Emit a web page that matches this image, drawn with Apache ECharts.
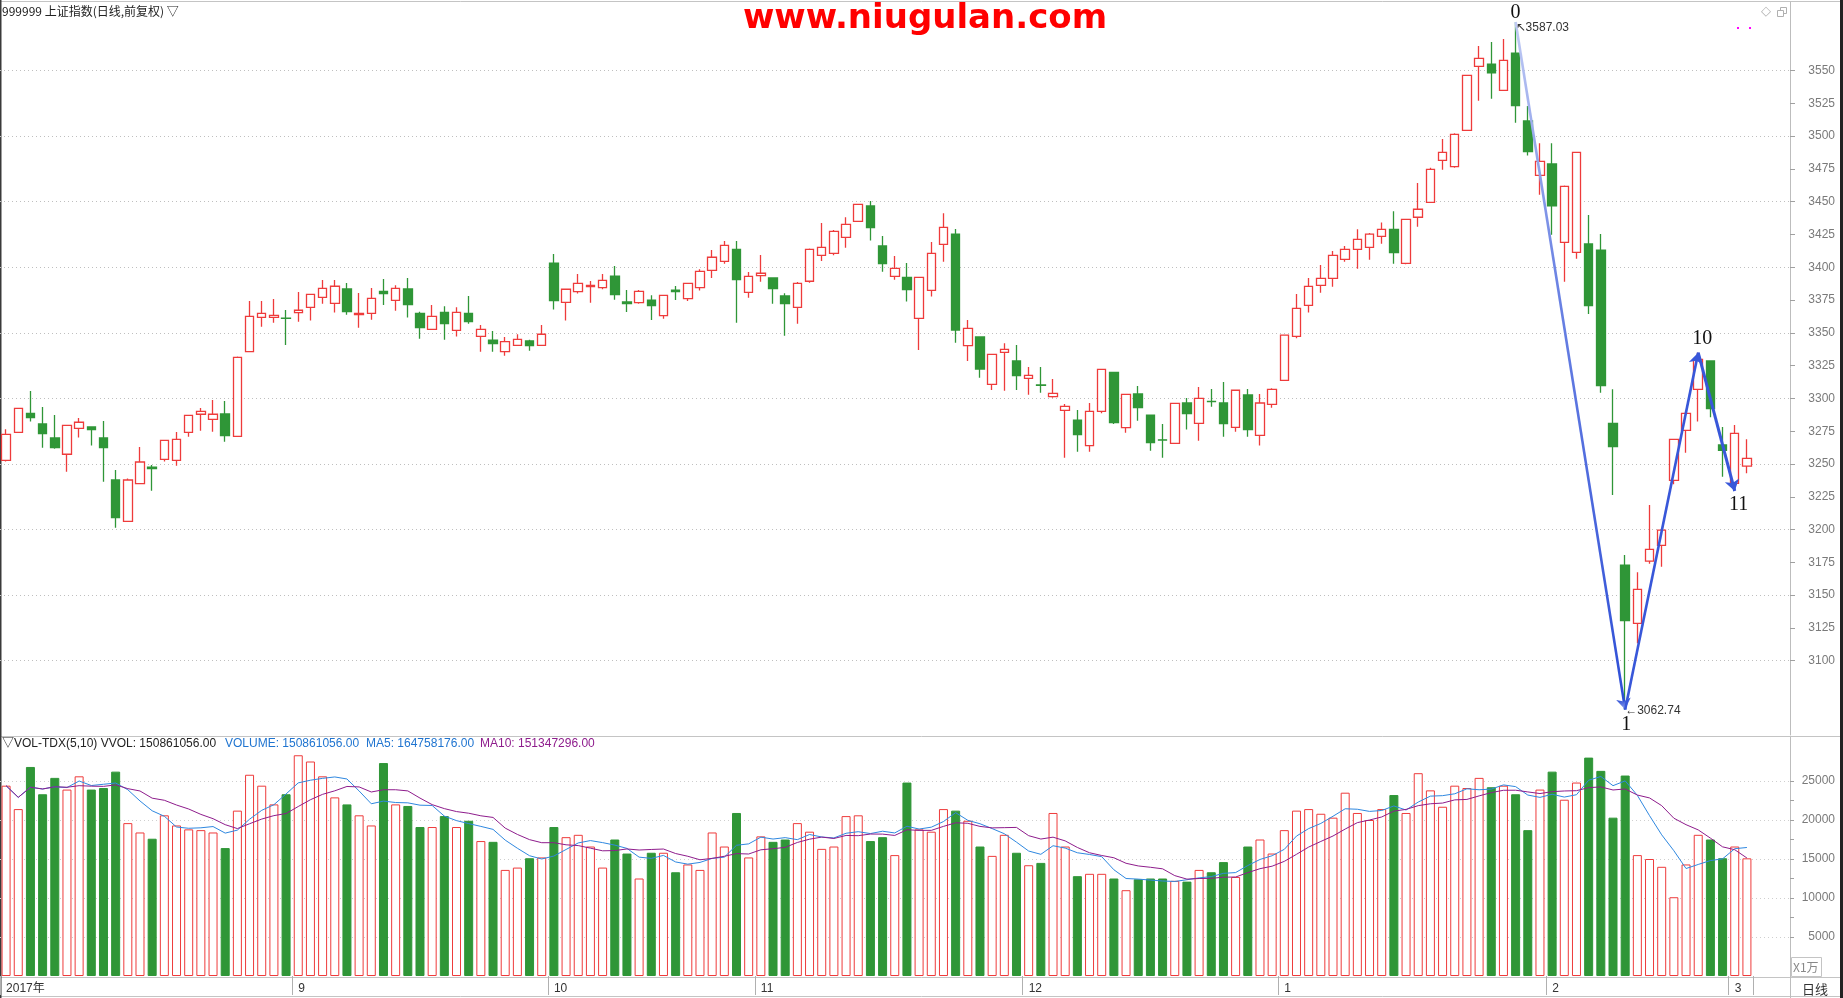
<!DOCTYPE html>
<html><head><meta charset="utf-8">
<script src="https://cdn.jsdelivr.net/npm/echarts@6/dist/echarts.min.js"></script>
<style>html,body{margin:0;padding:0;background:#fff;overflow:hidden}#c{width:1843px;height:998px}</style>
</head><body><div id="c"></div>
<script>
const dates = [
'2017-07-31',
'2017-08-01','2017-08-02','2017-08-03','2017-08-04','2017-08-07','2017-08-08','2017-08-09','2017-08-10','2017-08-11','2017-08-14','2017-08-15','2017-08-16','2017-08-17','2017-08-18','2017-08-21','2017-08-22','2017-08-23','2017-08-24','2017-08-25','2017-08-28','2017-08-29','2017-08-30','2017-08-31',
'2017-09-01','2017-09-04','2017-09-05','2017-09-06','2017-09-07','2017-09-08','2017-09-11','2017-09-12','2017-09-13','2017-09-14','2017-09-15','2017-09-18','2017-09-19','2017-09-20','2017-09-21','2017-09-22','2017-09-25','2017-09-26','2017-09-27','2017-09-28','2017-09-29',
'2017-10-09','2017-10-10','2017-10-11','2017-10-12','2017-10-13','2017-10-16','2017-10-17','2017-10-18','2017-10-19','2017-10-20','2017-10-23','2017-10-24','2017-10-25','2017-10-26','2017-10-27','2017-10-30','2017-10-31',
'2017-11-01','2017-11-02','2017-11-03','2017-11-06','2017-11-07','2017-11-08','2017-11-09','2017-11-10','2017-11-13','2017-11-14','2017-11-15','2017-11-16','2017-11-17','2017-11-20','2017-11-21','2017-11-22','2017-11-23','2017-11-24','2017-11-27','2017-11-28','2017-11-29','2017-11-30',
'2017-12-01','2017-12-04','2017-12-05','2017-12-06','2017-12-07','2017-12-08','2017-12-11','2017-12-12','2017-12-13','2017-12-14','2017-12-15','2017-12-18','2017-12-19','2017-12-20','2017-12-21','2017-12-22','2017-12-25','2017-12-26','2017-12-27','2017-12-28','2017-12-29',
'2018-01-02','2018-01-03','2018-01-04','2018-01-05','2018-01-08','2018-01-09','2018-01-10','2018-01-11','2018-01-12','2018-01-15','2018-01-16','2018-01-17','2018-01-18','2018-01-19','2018-01-22','2018-01-23','2018-01-24','2018-01-25','2018-01-26','2018-01-29','2018-01-30','2018-01-31',
'2018-02-01','2018-02-02','2018-02-05','2018-02-06','2018-02-07','2018-02-08','2018-02-09','2018-02-12','2018-02-13','2018-02-14','2018-02-22','2018-02-23','2018-02-26','2018-02-27','2018-02-28',
'2018-03-01','2018-03-02'];

const opens = [
3252.8,3274.1,3288.6,3280.5,3269.8,3257.4,3277.2,3278.2,3269.8,3237.8,
3206.3,3235.0,3247.5,3253.5,3252.8,3274.1,3287.9,3284.0,3288.1,3271.1,
3335.6,3361.8,3361.8,3361.2,3365.4,3369.4,3377.1,3372.5,3383.4,3363.9,
3364.9,3381.6,3374.8,3383.4,3364.9,3352.7,3365.6,3351.9,3364.9,3347.3,
3344.5,3335.6,3340.5,3343.8,3340.5,3403.2,3373.2,3381.4,3385.2,3384.4,
3393.3,3373.5,3373.0,3375.0,3363.1,3382.6,3376.0,3384.4,3397.6,3404.5,
3413.6,3380.9,3393.6,3391.8,3378.1,3369.4,3389.3,3409.1,3410.6,3422.8,
3435.0,3446.7,3416.2,3393.1,3392.3,3361.0,3382.4,3417.5,3425.3,3340.2,
3346.8,3310.7,3335.1,3328.5,3315.3,3310.2,3301.3,3290.9,3283.5,3264.0,
3290.1,3319.9,3277.7,3303.4,3287.3,3268.4,3265.7,3296.5,3281.0,3297.8,
3296.5,3277.9,3302.6,3271.8,3295.5,3313.8,3347.3,3370.9,3386.2,3391.5,
3406.0,3413.6,3415.2,3423.6,3428.9,3403.0,3438.1,3449.5,3481.5,3476.7,
3504.4,3553.2,3554.9,3534.9,3563.3,3511.5,3470.1,3478.7,3419.0,3411.4,
3417.7,3413.1,3281.0,3172.9,3128.5,3176.0,3188.0,3237.5,3275.6,3306.9,
3328.5,3264.5,3235.2,3248.4];
const closes = [
3272.6,3292.4,3285.3,3273.1,3262.4,3279.5,3281.8,3276.2,3262.4,3209.1,
3237.8,3251.5,3246.5,3268.0,3268.8,3287.1,3290.1,3287.9,3271.6,3331.3,
3362.6,3364.9,3363.3,3361.0,3367.2,3379.3,3383.9,3385.5,3366.1,3364.9,
3376.3,3379.9,3383.9,3371.5,3353.9,3362.6,3357.0,3365.6,3358.5,3352.7,
3341.7,3343.3,3345.0,3340.2,3348.9,3374.5,3383.2,3387.7,3386.2,3390.0,
3379.1,3372.2,3381.6,3370.7,3378.6,3381.4,3387.7,3396.9,3407.6,3416.7,
3390.5,3393.1,3395.4,3383.7,3372.2,3387.7,3413.6,3415.2,3427.4,3432.7,
3448.0,3430.2,3402.7,3399.2,3382.9,3392.3,3410.6,3430.4,3352.1,3353.4,
3322.4,3333.6,3337.4,3317.3,3317.6,3310.0,3303.9,3293.9,3272.4,3290.1,
3322.2,3281.5,3303.1,3292.9,3266.3,3268.2,3296.2,3288.4,3300.0,3297.6,
3280.7,3306.2,3276.2,3296.5,3306.9,3348.3,3368.7,3385.4,3391.5,3409.1,
3413.6,3421.3,3425.3,3428.9,3411.1,3436.5,3444.2,3474.6,3487.6,3501.3,
3546.3,3559.3,3548.3,3557.7,3523.2,3488.1,3480.7,3446.9,3461.7,3487.6,
3370.7,3309.7,3263.2,3130.5,3154.4,3184.9,3199.6,3268.8,3288.6,3329.8,
3292.2,3260.4,3273.4,3254.3];
const lows = [
3251.8,3273.9,3282.3,3262.4,3261.7,3244.1,3270.1,3264.0,3236.5,3201.4,
3206.0,3235.0,3229.6,3251.8,3248.7,3270.8,3275.4,3274.6,3267.0,3271.1,
3335.6,3354.7,3357.7,3340.7,3358.5,3359.3,3372.2,3365.4,3363.8,3353.9,
3360.0,3371.2,3366.9,3361.6,3345.5,3352.7,3344.8,3347.1,3357.0,3335.6,
3335.6,3332.6,3340.5,3336.4,3340.5,3367.7,3359.3,3379.9,3373.0,3383.2,
3375.3,3365.9,3372.2,3359.8,3360.8,3375.0,3374.3,3382.2,3391.8,3402.7,
3357.7,3376.8,3389.0,3372.2,3347.8,3357.0,3388.2,3404.8,3409.1,3414.9,
3435.0,3420.3,3396.6,3390.5,3373.8,3336.9,3377.6,3404.2,3342.5,3328.5,
3315.8,3306.4,3305.9,3306.4,3302.8,3304.4,3300.5,3254.8,3259.4,3259.4,
3288.6,3280.5,3273.9,3283.0,3260.1,3254.8,3265.7,3276.2,3267.8,3293.7,
3270.8,3274.6,3270.8,3264.0,3292.9,3313.8,3345.8,3365.4,3380.6,3385.2,
3404.2,3398.9,3405.8,3418.0,3402.7,3402.2,3430.9,3449.0,3474.4,3475.9,
3504.4,3527.0,3528.5,3534.9,3510.2,3485.1,3455.3,3424.8,3389.0,3406.5,
3364.3,3304.4,3226.3,3062.74,3113.3,3174.0,3171.7,3234.5,3258.6,3282.3,
3285.6,3240.3,3229.4,3242.9];
const highs = [
3276.4,3292.6,3305.6,3293.4,3287.3,3279.5,3285.1,3278.2,3282.8,3245.4,
3239.0,3262.9,3249.2,3268.0,3274.4,3287.1,3292.7,3298.8,3298.0,3332.0,
3374.2,3374.3,3375.8,3367.4,3381.1,3379.3,3390.3,3390.3,3388.0,3380.4,
3384.2,3391.0,3386.2,3391.8,3366.1,3371.2,3370.2,3369.4,3378.1,3356.0,
3351.4,3346.8,3348.9,3344.8,3356.0,3410.1,3383.2,3394.9,3389.5,3394.9,
3401.0,3382.6,3382.6,3378.6,3378.6,3385.7,3387.7,3398.4,3413.1,3420.0,
3420.0,3396.4,3409.3,3391.8,3380.1,3388.7,3414.2,3433.7,3428.4,3438.1,
3448.0,3450.5,3423.8,3408.6,3403.2,3392.3,3419.2,3441.1,3429.2,3359.8,
3346.8,3333.8,3342.0,3340.7,3323.9,3323.9,3314.8,3295.7,3291.2,3296.5,
3322.2,3319.9,3303.1,3309.5,3287.3,3280.5,3296.2,3300.3,3308.7,3307.2,
3312.5,3306.2,3307.2,3303.4,3307.7,3348.3,3379.6,3391.8,3401.7,3412.4,
3416.2,3428.9,3426.1,3434.2,3442.6,3436.5,3464.2,3475.9,3497.8,3502.1,
3546.3,3568.7,3571.7,3574.0,3587.03,3522.9,3494.5,3494.5,3462.4,3487.6,
3439.8,3425.3,3306.9,3180.6,3167.4,3218.7,3199.6,3268.8,3288.6,3334.9,
3328.5,3278.2,3279.7,3268.8];
// volume in units of 10,000 (X1万)
const volumes = [
24400,21400,26800,23300,25400,23900,25600,23900,24100,26200,
19600,18400,17600,20600,19300,18800,18700,18400,16400,21200,
25800,24400,22000,23300,28300,27500,25600,22900,22000,20600,
19300,27300,22000,21800,19100,19100,20500,19100,19900,17300,
17200,13600,13900,15100,15200,19100,17800,18100,16600,13900,
17500,15700,12500,15800,15800,13300,14300,13600,18400,16600,
20900,15200,17900,17200,17500,19600,18500,16300,16600,20500,
20600,17300,17800,15500,24800,18800,18500,21400,21200,19900,
16600,15400,18100,15800,14200,14500,20900,16600,12800,13100,
13100,12500,11000,12400,12500,12500,12200,12100,13600,13300,
14600,12700,16600,17500,15700,18700,21200,21400,20800,20300,
23500,20900,20000,21400,23200,20900,26000,23800,21700,24400,
24100,25400,24200,24400,23300,18700,23900,26200,22600,24800,
28000,26300,20300,25700,15500,15000,14000,10100,14300,18100,
17500,15100,16600,15086];

const priceTickRange = [3100, 3550];
const volTickRange = [5000, 25000];
const waveIdx = [124, 133, 139, 142];
const waveNames = ['0', '1', '10', '11'];
const legendTexts = ['\u25BDVOL-TDX(5,10) VVOL: 150861056.00', 'VOLUME: 150861056.00', 'MA5: 164758176.00', 'MA10: 151347296.00'];

const UP = '#EE3B3B', DOWN = '#2F9637', BLUE = '#2F88E0', PURPLE = '#8E1C8C', WAVE = '#3857D9';
const chart = echarts.init(document.getElementById('c'), null, {width: 1843, height: 998});

const candleData = dates.map((d, i) => [opens[i], closes[i], lows[i], highs[i]]);
const volData = volumes.map((v, i) => closes[i] >= opens[i]
  ? {value: v, itemStyle: {color: '#FFFFFF', borderColor: UP, borderWidth: 1}}
  : {value: v, itemStyle: {color: DOWN, borderColor: DOWN, borderWidth: 1}});
function ma(n) {
  return volumes.map((v, i) => {
    const s = Math.max(0, i - n + 1); let t = 0;
    for (let k = s; k <= i; k++) t += volumes[k];
    return +(t / (i - s + 1)).toFixed(1);
  });
}
const labelSet = new Set();
dates.forEach((d, i) => { if (i === 0 || (i > 1 && d.slice(5, 7) !== dates[i - 1].slice(5, 7))) labelSet.add(i); });

// geometry
const AX = 1790;            // right axis x
const PLOT_W = 1753;        // category band area width
const P_TOP = 2, P_H = 733; // price pane
const PX_PER_PT = 1.3116;
const Y3550 = 70.5;
const PMAX = 3550 + (Y3550 - P_TOP) / PX_PER_PT;
const PMIN = PMAX - P_H / PX_PER_PT;
const V_TOP = 737, V_H = 239, V_PX = 156 / 20000;
const VMAX = V_H / V_PX;

const serif = 'Liberation Serif, DejaVu Serif, serif';
const sans = 'Liberation Sans, Arial, sans-serif';
function lbl(text, dx, dy, extra) {
  return Object.assign({show: true, position: 'inside', formatter: text, offset: [dx, dy], color: '#111', fontFamily: serif, fontSize: 20}, extra || {});
}
const fadeWave = new echarts.graphic.LinearGradient(0, 0, 0, 1, [
  {offset: 0, color: '#C2CCF4'}, {offset: 0.35, color: '#6F86E4'}, {offset: 1, color: '#2C4DD6'}]);

const option = {
  animation: false,
  backgroundColor: '#FFFFFF',
  grid: [
    {left: 0, width: PLOT_W, top: P_TOP, height: P_H},
    {left: 0, width: PLOT_W, top: V_TOP, height: V_H},
    {left: 0, right: 1843 - AX, top: Y3550, height: 450 * PX_PER_PT},
    {left: 0, right: 1843 - AX, top: 781, height: 156}
  ],
  xAxis: [
    {gridIndex: 0, type: 'category', data: dates, boundaryGap: true, axisLine: {show: false}, axisTick: {show: false}, axisLabel: {show: false}, splitLine: {show: false}},
    {gridIndex: 1, type: 'category', data: dates, boundaryGap: true, axisLine: {show: false},
      axisTick: {show: true, interval: (i) => labelSet.has(i), length: 19, lineStyle: {color: '#B0B0B0'}},
      axisLabel: {show: true, interval: (i) => labelSet.has(i), align: 'left', margin: 7, color: '#333', fontSize: 12, fontFamily: sans + ', Noto Sans CJK SC',
        formatter: (v, i) => i === 0 ? v.slice(0, 4) + '年' : String(parseInt(v.slice(5, 7), 10))}, splitLine: {show: false}},
    {gridIndex: 2, type: 'value', show: false},
    {gridIndex: 3, type: 'value', show: false}
  ],
  yAxis: [
    {gridIndex: 0, type: 'value', min: PMIN, max: PMAX, position: 'right', offset: AX - PLOT_W, axisLine: {show: true, lineStyle: {color: '#BDBDBD'}}, axisTick: {show: false}, axisLabel: {show: false}, splitLine: {show: false}},
    {gridIndex: 1, type: 'value', min: 0, max: VMAX, position: 'right', offset: AX - PLOT_W, axisLine: {show: true, lineStyle: {color: '#BDBDBD'}}, axisTick: {show: false}, axisLabel: {show: false}, splitLine: {show: false}},
    {gridIndex: 2, type: 'value', min: priceTickRange[0], max: priceTickRange[1], interval: 50, position: 'left', axisLine: {show: false}, axisTick: {show: false}, axisLabel: {show: false},
      splitLine: {show: true, lineStyle: {color: '#BFBFBF', width: 1, type: [1, 3]}}},
    {gridIndex: 2, type: 'value', min: priceTickRange[0], max: priceTickRange[1], interval: 25, position: 'right', axisLine: {show: false},
      axisTick: {show: true, length: 5, lineStyle: {color: '#A0A0A0'}},
      axisLabel: {show: true, align: 'right', margin: 45, color: '#7A7A7A', fontSize: 12, fontFamily: sans, formatter: (v) => String(v)}, splitLine: {show: false}},
    {gridIndex: 3, type: 'value', min: volTickRange[0], max: volTickRange[1], interval: 5000, position: 'left', axisLine: {show: false}, axisTick: {show: false}, axisLabel: {show: false},
      splitLine: {show: true, lineStyle: {color: '#CFCFCF', width: 1, type: [1, 3]}}},
    {gridIndex: 3, type: 'value', min: volTickRange[0], max: volTickRange[1], interval: 2500, position: 'right', axisLine: {show: false},
      axisTick: {show: true, length: 4, lineStyle: {color: '#A0A0A0'}},
      axisLabel: {show: true, align: 'right', margin: 45, color: '#7A7A7A', fontSize: 12, fontFamily: sans, formatter: (v) => v % 5000 === 0 ? String(v) : ''}, splitLine: {show: false}}
  ],
  series: [
    {
      type: 'candlestick', xAxisIndex: 0, yAxisIndex: 0, data: candleData, barWidth: 9,
      itemStyle: {color: '#FFFFFF', color0: DOWN, borderColor: UP, borderColor0: DOWN, borderWidth: 1.3},
      markLine: {
        silent: true, symbol: ['none', 'arrow'], symbolSize: 11, label: {show: false},
        lineStyle: {color: WAVE, type: 'solid', width: 3},
        data: [
          [{coord: [dates[waveIdx[0]], highs[waveIdx[0]]], lineStyle: {width: 2.6, color: fadeWave}}, {coord: [dates[waveIdx[1]], lows[waveIdx[1]]]}],
          [{coord: [dates[waveIdx[1]], lows[waveIdx[1]]], lineStyle: {width: 2.6, color: WAVE}}, {coord: [dates[waveIdx[2]], highs[waveIdx[2]]]}],
          [{coord: [dates[waveIdx[2]], highs[waveIdx[2]]], lineStyle: {width: 3, color: WAVE}}, {coord: [dates[waveIdx[3]], lows[waveIdx[3]]]}]
        ]
      },
      markPoint: {
        silent: true, symbol: 'circle', symbolSize: 0,
        data: [
          {coord: [dates[waveIdx[0]], highs[waveIdx[0]]], label: lbl(waveNames[0], 0, -9)},
          {coord: [dates[waveIdx[0]], highs[waveIdx[0]]], label: lbl('\u2196' + highs[waveIdx[0]].toFixed(2), 0, 6, {align: 'left', fontFamily: sans, fontSize: 12, color: '#333'})},
          {coord: [dates[waveIdx[1]], lows[waveIdx[1]]], label: lbl(waveNames[1], 1, 15)},
          {coord: [dates[waveIdx[1]], lows[waveIdx[1]]], label: lbl('\u2190' + lows[waveIdx[1]].toFixed(2), 0, 1, {align: 'left', fontFamily: sans, fontSize: 12, color: '#333'})},
          {coord: [dates[waveIdx[2]], highs[waveIdx[2]]], label: lbl(waveNames[2], 4, -14)},
          {coord: [dates[waveIdx[3]], lows[waveIdx[3]]], label: lbl(waveNames[3], 4, 14)}
        ]
      }
    },
    {type: 'bar', xAxisIndex: 1, yAxisIndex: 1, data: volData, barWidth: 9},
    {type: 'line', xAxisIndex: 1, yAxisIndex: 1, data: ma(5), showSymbol: false, symbol: 'none', lineStyle: {color: BLUE, width: 1}, z: 5},
    {type: 'line', xAxisIndex: 1, yAxisIndex: 1, data: ma(10), showSymbol: false, symbol: 'none', lineStyle: {color: PURPLE, width: 1}, z: 5}
  ],
  graphic: [
    {type: 'line', silent: true, shape: {x1: 0, y1: 1.5, x2: 1843, y2: 1.5}, style: {stroke: '#C4C4C4', lineWidth: 1}},
    {type: 'line', silent: true, shape: {x1: 0, y1: 736.5, x2: 1843, y2: 736.5}, style: {stroke: '#C4C4C4', lineWidth: 1}},
    {type: 'line', silent: true, shape: {x1: 0, y1: 977.5, x2: 1843, y2: 977.5}, style: {stroke: '#C4C4C4', lineWidth: 1}},
    {type: 'line', silent: true, shape: {x1: 0, y1: 996.5, x2: 1843, y2: 996.5}, style: {stroke: '#C4C4C4', lineWidth: 1}},
    {type: 'line', silent: true, shape: {x1: AX + 0.5, y1: 976, x2: AX + 0.5, y2: 998}, style: {stroke: '#BDBDBD', lineWidth: 1}},
    {type: 'line', silent: true, shape: {x1: 0.75, y1: 0, x2: 0.75, y2: 998}, style: {stroke: '#3A3A3A', lineWidth: 1.5}},
    {type: 'line', silent: true, shape: {x1: 1841.5, y1: 0, x2: 1841.5, y2: 998}, style: {stroke: '#222', lineWidth: 3}},
    {type: 'rect', silent: true, shape: {x: 1791.5, y: 957.5, width: 30, height: 19}, style: {fill: 'none', stroke: '#C4C4C4', lineWidth: 1}},
    {type: 'text', silent: true, style: {text: 'X1万', x: 1793, y: 967, fill: '#888', font: '12px Noto Sans CJK SC', textVerticalAlign: 'middle', verticalAlign: 'middle'}},
    {type: 'text', silent: true, style: {text: '日线', x: 1815, y: 989, fill: '#333', font: '13px Noto Sans CJK SC', textAlign: 'center', align: 'center', textVerticalAlign: 'middle', verticalAlign: 'middle'}},
    {type: 'text', silent: true, style: {text: '999999 上证指数(日线,前复权) \u25BD', x: 2, y: 11, fill: '#222', font: '12px Noto Sans CJK SC', textVerticalAlign: 'middle', verticalAlign: 'middle'}},
    {type: 'text', silent: true, style: {text: 'www.niugulan.com', x: 925, y: 19, fill: '#FF0000', font: 'bold 34px DejaVu Sans', textAlign: 'center', align: 'center', textVerticalAlign: 'middle', verticalAlign: 'middle'}},
    {type: 'text', silent: true, style: {text: '\u25C7', x: 1766, y: 12, fill: '#B0B0B0', font: '13px DejaVu Sans', textAlign: 'center', align: 'center', textVerticalAlign: 'middle', verticalAlign: 'middle'}},
    {type: 'rect', silent: true, shape: {x: 1780.5, y: 7.5, width: 6, height: 6}, style: {fill: 'none', stroke: '#B0B0B0', lineWidth: 1}},
    {type: 'rect', silent: true, shape: {x: 1777.5, y: 10.5, width: 6, height: 6}, style: {fill: '#fff', stroke: '#B0B0B0', lineWidth: 1}},
    {type: 'rect', silent: true, shape: {x: 1737, y: 27, width: 2, height: 2}, style: {fill: '#FF00FF'}},
    {type: 'rect', silent: true, shape: {x: 1749, y: 27, width: 2, height: 2}, style: {fill: '#FF00FF'}},
    {type: 'text', silent: true, style: {text: legendTexts[0], x: 2, y: 744, fill: '#222', font: '12px Liberation Sans, Noto Sans CJK SC', textVerticalAlign: 'middle', verticalAlign: 'middle'}},
    {type: 'text', silent: true, style: {text: legendTexts[1], x: 225, y: 744, fill: '#1F74D0', font: '12px Liberation Sans', textVerticalAlign: 'middle', verticalAlign: 'middle'}},
    {type: 'text', silent: true, style: {text: legendTexts[2], x: 366, y: 744, fill: '#1F74D0', font: '12px Liberation Sans', textVerticalAlign: 'middle', verticalAlign: 'middle'}},
    {type: 'text', silent: true, style: {text: legendTexts[3], x: 480, y: 744, fill: PURPLE, font: '12px Liberation Sans', textVerticalAlign: 'middle', verticalAlign: 'middle'}}
  ]
};
chart.setOption(option);
</script>
</body></html>
